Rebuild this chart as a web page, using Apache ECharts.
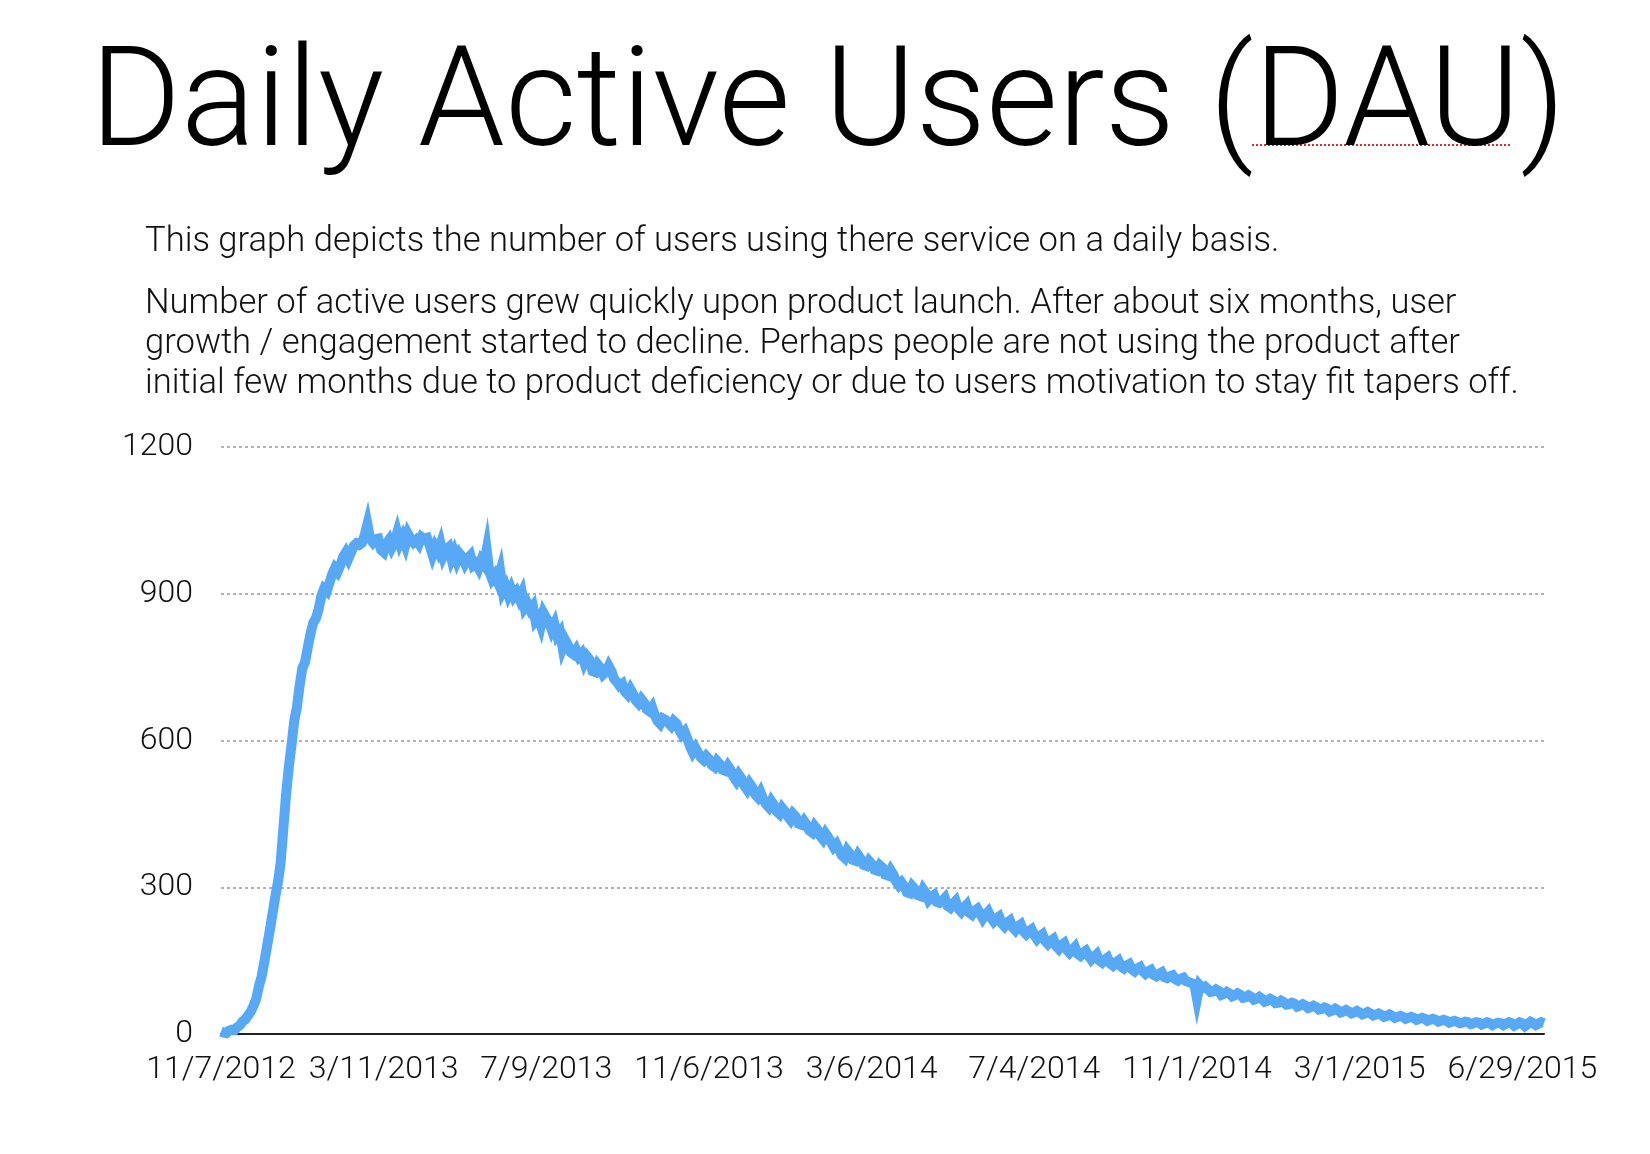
<!DOCTYPE html>
<html>
<head>
<meta charset="utf-8">
<script src="https://cdn.jsdelivr.net/npm/echarts@6/dist/echarts.min.js"></script>
<style>
html,body{margin:0;padding:0;background:#fff;}
#chart{width:1650px;height:1154px;}
</style>
</head>
<body>
<div id="chart"></div>
<script>
const titleText = 'Daily Active Users (DAU)';
const line1 = 'This graph depicts the number of users using there service on a daily basis.';
const para = [
  'Number of active users grew quickly upon product launch. After about six months, user',
  'growth / engagement started to decline. Perhaps people are not using the product after',
  'initial few months due to product deficiency or due to users motivation to stay fit tapers off.'
];
const tickLabels = ['11/7/2012','3/11/2013','7/9/2013','11/6/2013','3/6/2014','7/4/2014','11/1/2014','3/1/2015','6/29/2015'];
const dayStep = 2; // one reading every 2 days, starting 11/7/2012
const dau = [
  5,3,2,7,9,8,14,18,26,30,38,46,58,72,98,118,148,180,212,246,
  280,310,350,420,490,545,590,640,668,712,748,760,790,818,840,850,868,895,910,905,
  922,940,952,945,958,975,984,972,985,998,1003,1000,1004,1020,1042,1012,1005,1012,1013,990,
  985,1002,1010,995,1006,1025,1004,1016,1000,1022,1012,1005,1010,1002,1016,1012,1014,998,980,996,
  986,1002,978,990,995,972,985,968,982,975,962,972,978,958,962,952,968,960,990,945,
  930,938,925,945,905,915,898,910,895,903,890,902,872,880,868,875,845,852,835,860,
  850,842,826,838,815,822,790,805,795,780,776,785,772,778,760,772,765,742,740,755,
  748,735,740,752,742,726,720,712,716,700,694,705,695,682,676,685,678,664,660,668,
  652,640,634,645,642,636,630,640,635,622,612,618,604,588,576,585,575,565,560,568,
  562,550,546,558,552,540,538,548,540,526,518,530,522,508,500,512,504,490,484,494,
  480,470,464,476,468,455,450,462,455,445,438,450,444,430,428,436,428,416,412,425,
  418,405,398,410,402,392,382,388,376,365,360,375,368,356,354,366,358,346,344,354,
  348,336,334,345,340,326,324,335,326,312,304,310,302,290,288,302,296,284,282,296,
  288,274,280,284,270,268,272,278,262,258,266,272,256,250,258,264,248,244,252,256,
  246,236,244,250,238,230,236,240,226,220,228,232,218,212,220,224,210,204,210,214,
  202,194,200,204,190,184,190,194,180,174,182,186,172,166,172,178,164,160,166,170,
  160,152,158,163,150,146,152,156,144,140,146,150,138,134,140,143,132,128,134,137,
  128,123,128,131,121,118,123,126,116,114,118,120,112,109,113,115,108,106,104,102,
  72,100,94,97,92,86,87,91,88,80,82,86,83,77,79,83,80,74,75,79,
  76,70,72,76,72,66,68,72,69,63,64,68,65,60,61,64,62,56,58,61,
  58,53,55,58,55,50,51,54,52,46,48,52,49,44,46,49,46,42,44,47,
  44,40,42,45,42,38,40,42,39,35,37,40,37,33,35,37,35,31,33,35,
  33,29,31,33,31,27,29,31,29,25,27,29,27,23,25,27,25,22,23,25,
  24,20,22,24,23,19,21,24,22,18,21,23,22,18,21,24,22,17,20,24,
  22,16,20,25,22,18,21,24,22
];
const seriesData = dau.map((v, i) => [i * dayStep, v]);
const lastDay = (dau.length - 1) * dayStep;

const FONT = 'Roboto, "Helvetica Neue", Arial, sans-serif';
const chart = echarts.init(document.getElementById('chart'), null, {renderer: 'canvas'});
chart.setOption({
  backgroundColor: '#ffffff',
  animation: false,
  title: [
    {text: titleText, left: 85, top: 36,
     textStyle: {fontFamily: FONT, fontWeight: 300, fontSize: 139, color: '#000'}},
    {text: line1, left: 140, top: 220,
     textStyle: {fontFamily: FONT, fontWeight: 300, fontSize: 34.6, color: '#111'}},
    {text: para.join('\n'), left: 140, top: 279,
     textStyle: {fontFamily: FONT, fontWeight: 300, fontSize: 34.6, lineHeight: 40, color: '#111'}}
  ],
  graphic: [
    {type: 'line', shape: {x1: 1252, y1: 145, x2: 1512, y2: 145},
     style: {stroke: '#e8232a', lineWidth: 2, lineDash: [2, 2]}}
  ],
  grid: {left: 221, right: 106, top: 447, bottom: 120, containLabel: false},
  xAxis: {
    type: 'value', min: 0, max: lastDay, interval: 120,
    axisLine: {show: true, lineStyle: {color: '#222', width: 2}},
    axisTick: {show: false},
    splitLine: {show: false},
    axisLabel: {
      margin: 20, fontFamily: FONT, fontWeight: 300, fontSize: 32, color: '#111',
      showMaxLabel: false,
      formatter: v => (v % 120 === 0 && tickLabels[v / 120]) ? tickLabels[v / 120] : ''
    }
  },
  yAxis: {
    type: 'value', min: 0, max: 1200, interval: 300,
    axisLine: {show: false}, axisTick: {show: false},
    splitLine: {show: true, lineStyle: {color: '#9a9a9a', width: 1.5, type: [3, 3]}},
    axisLabel: {margin: 28, fontFamily: FONT, fontWeight: 300, fontSize: 32, color: '#111',
      formatter: v => String(v)}
  },
  series: [{
    type: 'line', data: seriesData, showSymbol: false, symbol: 'none',
    lineStyle: {color: '#58a9f5', width: 10, join: 'miter', miterLimit: 10},
    z: 3
  }]
});
</script>
</body>
</html>
